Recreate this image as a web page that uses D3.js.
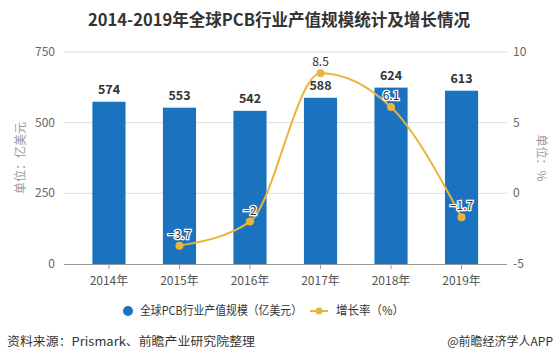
<!DOCTYPE html>
<html><head><meta charset="utf-8">
<script src="https://cdn.jsdelivr.net/npm/d3@7/dist/d3.min.js"></script>
<style>body{margin:0;background:#fff;}svg{display:block;font-family:"Microsoft YaHei","Noto Sans CJK SC",sans-serif;}</style>
</head><body>
<svg id="c" width="558" height="362"></svg>
<script>
const categories = ["2014年","2015年","2016年","2017年","2018年","2019年"];
const scaleValues = [574, 553, 542, 588, 624, 613];
const growthValues = [null, -3.7, -2, 8.5, 6.1, -1.7];
const leftTicks = [0, 250, 500, 750];
const rightTicks = [-5, 0, 5, 10];

const svg = d3.select("#c");
const barColor = "#1b73c0", lineColor = "#e9b53c";
const plotTop = 52, plotBottom = 264, gl = 64, gr = 507;

const x = d3.scaleBand().domain(categories).range([73.7, 496.8]).paddingInner(0.53).paddingOuter(0.265);
const yL = d3.scaleLinear().domain([0, 750]).range([plotBottom, plotTop]);
const yR = d3.scaleLinear().domain([-5, 10]).range([plotBottom, plotTop]);

svg.append("text").attr("x", 88).attr("y", 26)
  .attr("font-size", 16.5).attr("font-weight", "bold").attr("fill", "#333")
  .attr("textLength", 382).attr("lengthAdjust", "spacingAndGlyphs")
  .text("2014-2019年全球PCB行业产值规模统计及增长情况");

// gridlines
svg.append("g").selectAll("line").data(leftTicks.slice(1)).join("line")
  .attr("x1", gl).attr("x2", gr).attr("y1", d => yL(d)).attr("y2", d => yL(d))
  .attr("stroke", "#ddd").attr("stroke-width", 1);

// axis labels
svg.append("g").selectAll("text").data(leftTicks).join("text")
  .attr("x", 55).attr("y", d => yL(d) + 4).attr("text-anchor", "end")
  .attr("font-size", 12).attr("fill", "#666").text(d => d);
svg.append("g").selectAll("text").data(rightTicks).join("text")
  .attr("x", 513).attr("y", d => yR(d) + 4).attr("text-anchor", "start")
  .attr("font-size", 12).attr("fill", "#666").text(d => d);

svg.append("text").attr("transform", "translate(25,158) rotate(-90)")
  .attr("text-anchor", "middle").attr("font-size", 12).attr("fill", "#999").text("单位：亿美元");
svg.append("text").attr("transform", "translate(537,158) rotate(90)")
  .attr("text-anchor", "middle").attr("font-size", 12).attr("fill", "#999").text("单位：%");

// bars
svg.append("g").selectAll("rect").data(categories).join("rect")
  .attr("x", d => x(d)).attr("width", x.bandwidth())
  .attr("y", (d, i) => yL(scaleValues[i])).attr("height", (d, i) => plotBottom - yL(scaleValues[i]))
  .attr("fill", barColor);
svg.append("g").selectAll("text").data(categories).join("text")
  .attr("x", d => x(d) + x.bandwidth() / 2).attr("y", (d, i) => yL(scaleValues[i]) - 8)
  .attr("text-anchor", "middle").attr("font-size", 12.5).attr("font-weight", "bold").attr("fill", "#333")
  .text((d, i) => scaleValues[i]);

// x axis
svg.append("line").attr("x1", gl).attr("x2", gr).attr("y1", plotBottom + 0.5).attr("y2", plotBottom + 0.5)
  .attr("stroke", "#999");
svg.append("g").selectAll("line").data(categories).join("line")
  .attr("x1", d => x(d) + x.bandwidth() / 2).attr("x2", d => x(d) + x.bandwidth() / 2)
  .attr("y1", plotBottom).attr("y2", plotBottom + 5).attr("stroke", "#999");
svg.append("g").selectAll("text").data(categories).join("text")
  .attr("x", d => x(d) + x.bandwidth() / 2).attr("y", 285).attr("text-anchor", "middle")
  .attr("font-size", 12).attr("fill", "#555").text(d => d);

// line
const pts = categories.map((c, i) => ({c, v: growthValues[i]})).filter(d => d.v !== null);
const line = d3.line().x(d => x(d.c) + x.bandwidth() / 2).y(d => yR(d.v)).curve(d3.curveMonotoneX);
svg.append("path").datum(pts).attr("d", line).attr("fill", "none")
  .attr("stroke", lineColor).attr("stroke-width", 2);
svg.append("g").selectAll("circle").data(pts).join("circle")
  .attr("cx", d => x(d.c) + x.bandwidth() / 2).attr("cy", d => yR(d.v)).attr("r", 4)
  .attr("fill", lineColor);
svg.append("g").selectAll("text").data(pts).join("text")
  .attr("x", d => x(d.c) + x.bandwidth() / 2).attr("y", d => yR(d.v) - 7)
  .attr("text-anchor", "middle").attr("font-size", 12).attr("fill", "#333")
  .attr("stroke", "#fff").attr("stroke-width", 2.5).attr("paint-order", "stroke")
  .text(d => d.v < 0 ? "−" + Math.abs(d.v) : d.v);

// legend
svg.append("circle").attr("cx", 128).attr("cy", 311).attr("r", 5).attr("fill", barColor);
svg.append("text").attr("x", 140).attr("y", 315).attr("font-size", 12).attr("fill", "#333")
  .attr("textLength", 162).attr("lengthAdjust", "spacingAndGlyphs")
  .text("全球PCB行业产值规模（亿美元）");
svg.append("line").attr("x1", 310).attr("x2", 328).attr("y1", 311).attr("y2", 311)
  .attr("stroke", lineColor).attr("stroke-width", 2);
svg.append("circle").attr("cx", 319).attr("cy", 311).attr("r", 3.5).attr("fill", lineColor);
svg.append("text").attr("x", 336).attr("y", 315).attr("font-size", 12).attr("fill", "#333")
  .attr("textLength", 68).attr("lengthAdjust", "spacingAndGlyphs")
  .text("增长率（%）");

// footer
svg.append("text").attr("x", 7).attr("y", 346).attr("font-size", 12).attr("fill", "#333")
  .attr("textLength", 248).attr("lengthAdjust", "spacingAndGlyphs")
  .text("资料来源：Prismark、前瞻产业研究院整理");
svg.append("text").attr("x", 553).attr("y", 346).attr("text-anchor", "end").attr("font-size", 12).attr("fill", "#333")
  .text("@前瞻经济学人APP");
</script>
</body></html>
